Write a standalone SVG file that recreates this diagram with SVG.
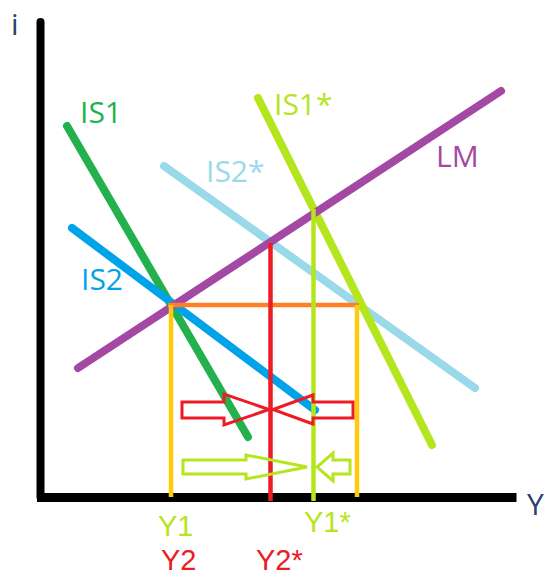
<svg xmlns="http://www.w3.org/2000/svg" width="549" height="578" viewBox="0 0 549 578">
<style>
text{font-family:"Open Sans","Liberation Sans",sans-serif;font-size:30px}
text.b{font-family:"Liberation Sans",Arial,sans-serif;font-size:29px}
.c{fill:none;stroke-width:8;stroke-linecap:round}
.g{fill:none;stroke-width:4.5}
.ar{fill:none;stroke-width:3;stroke-linejoin:miter}
</style>
<rect width="549" height="578" fill="#fff"/>
<g id="axes">
<line x1="40.5" y1="22" x2="40.5" y2="497" stroke="#000" stroke-width="8" stroke-linecap="round"/>
<line x1="37" y1="497.5" x2="516.5" y2="497.5" stroke="#000" stroke-width="9"/>
<text x="11" y="35" fill="#2a3f6a">i</text>
<text x="527" y="515" fill="#2a3f6a">Y</text>
</g>
<g id="connectors">
<line id="IS1-line" class="c" x1="67" y1="126" x2="248" y2="437" stroke="#22b14c"/>
<line id="IS2-line" class="c" x1="72" y1="228" x2="315" y2="410" stroke="#00a2e8"/>
<line id="IS2s-line" class="c" x1="164" y1="166" x2="475" y2="388" stroke="#99d9ea"/>
<line id="IS1s-line" class="c" x1="258" y1="98" x2="432" y2="445" stroke="#b5e61d"/>
<line id="LM-line" class="c" x1="78" y1="368" x2="501" y2="91" stroke="#a349a4"/>
<line class="g" x1="168" y1="305" x2="359" y2="305" stroke="#ff7f27"/>
<line class="g" x1="171" y1="305" x2="171" y2="497" stroke="#ffc90e"/>
<line class="g" x1="357" y1="305" x2="357" y2="497" stroke="#ffc90e"/>
<line class="g" x1="270.5" y1="243" x2="270.5" y2="501" stroke="#ed1c24" stroke-width="5"/>
<line class="g" x1="313.5" y1="209" x2="313.5" y2="501" stroke="#b5e61d" stroke-width="5"/>
<polygon class="ar" stroke="#ed1c24" points="182,402 224,402 224,394 269,409.5 224,425 224,418 182,418"/>
<polygon class="ar" stroke="#ed1c24" points="353,402 313,402 313,395 273,409.5 313,424 313,418 353,418"/>
<polygon class="ar" stroke="#b5e61d" points="183,460 246,460 246,455 307,467 246,479 246,474 183,474"/>
<polygon class="ar" stroke="#b5e61d" points="350,460 333,460 333,453 317,467 333,481 333,474 350,474"/>
</g>
<g id="IS1"><text x="80" y="123" fill="#22b14c">IS1</text></g>
<g id="IS2"><text x="81" y="290" fill="#00a2e8">IS2</text></g>
<g id="IS2s"><text x="206" y="182" fill="#99d9ea">IS2*</text></g>
<g id="IS1s"><text x="274" y="115" fill="#b5e61d">IS1*</text></g>
<g id="LM"><text x="436" y="167" fill="#a349a4">LM</text></g>
<g id="Y1"><text class="b" x="158" y="536" fill="#b5e61d">Y1</text></g>
<g id="Y1s"><text class="b" x="304" y="532" fill="#b5e61d">Y1*</text></g>
<g id="Y2"><text class="b" x="161" y="570" fill="#ed1c24">Y2</text></g>
<g id="Y2s"><text class="b" x="256" y="570" fill="#ed1c24">Y2*</text></g>
</svg>
